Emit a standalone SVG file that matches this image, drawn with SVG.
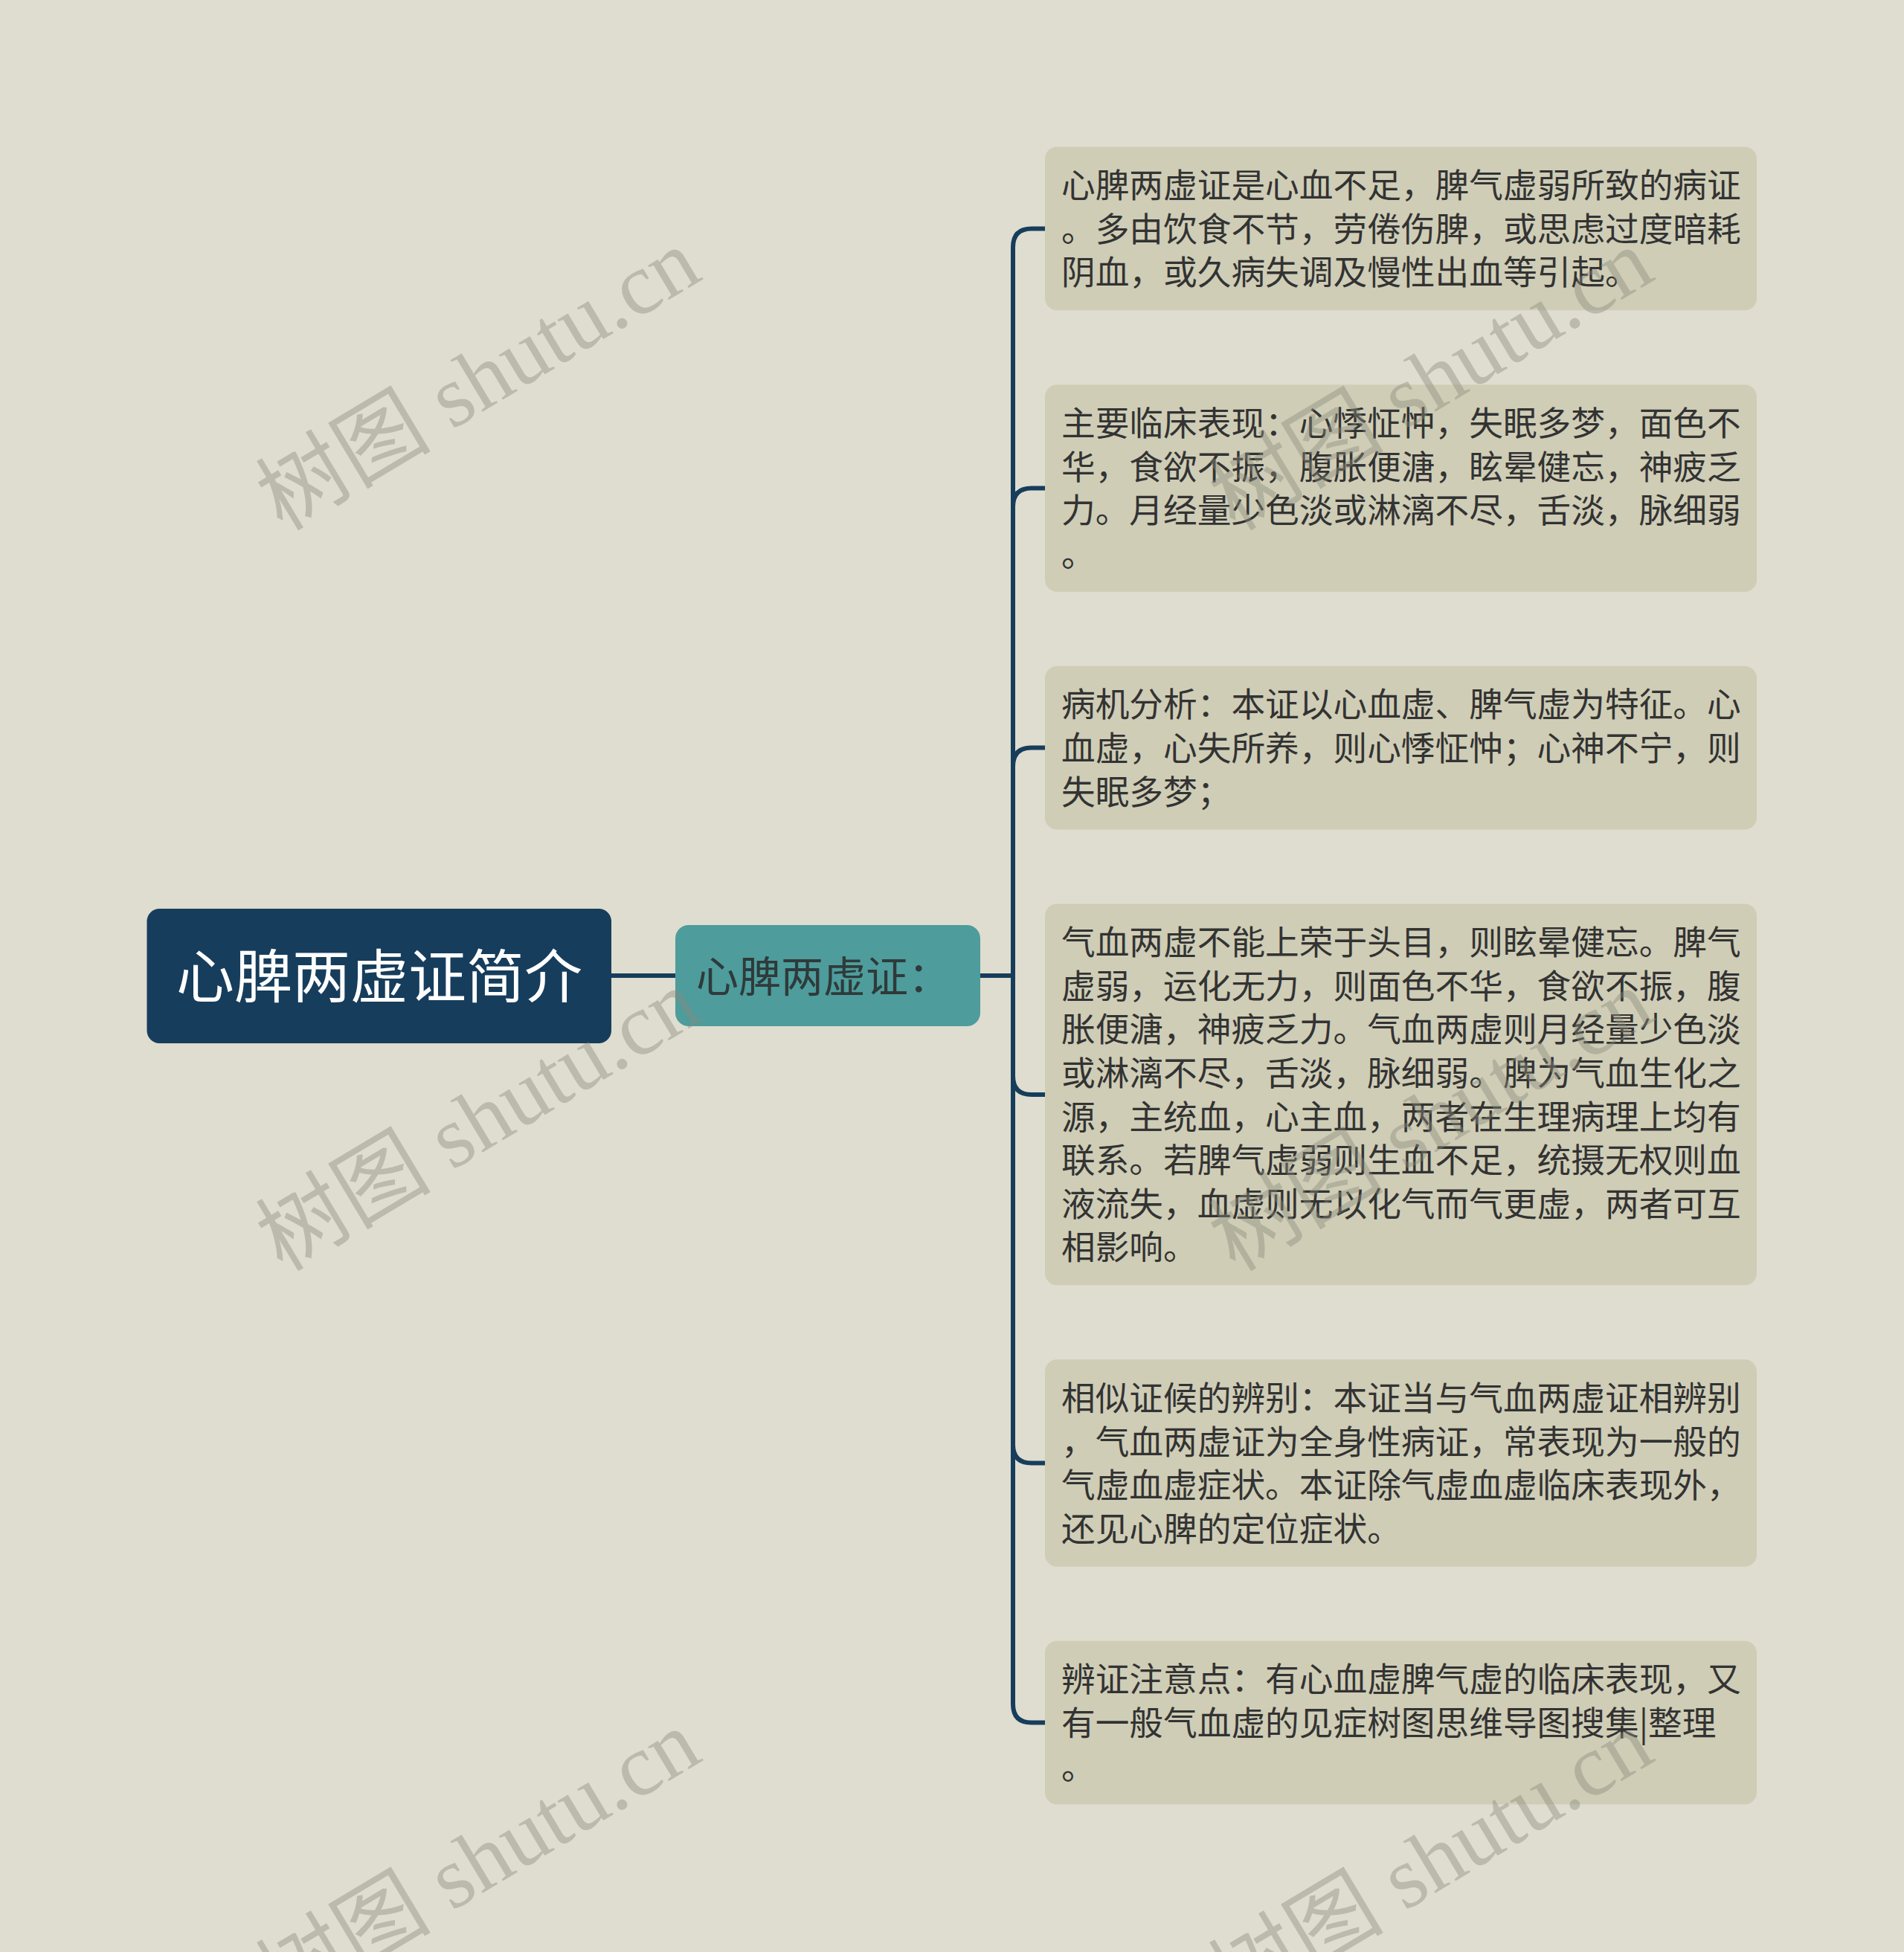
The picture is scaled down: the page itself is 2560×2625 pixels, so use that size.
<svg xmlns="http://www.w3.org/2000/svg" width="2560" height="2625" viewBox="0 0 2560 2625">
<style>
.leaf rect{fill:#CFCDB6;}
.leaf text{font-family:"Noto Sans CJK SC","Noto Sans",sans-serif;font-size:45.7px;fill:#333333;}
.conn{fill:none;stroke:#173D5C;stroke-width:6;}
.wm{font-family:"Liberation Serif","Noto Sans CJK SC",serif;font-size:118px;fill:#8a8a7c;fill-opacity:0.42;}
</style>
<rect x="0" y="0" width="2560" height="2625" fill="#DFDDCF"/>
<g id="connectors">
<path class="conn" d="M822 1312 H908"/>
<path class="conn" d="M1318 1312 H1362"/>
<path class="conn" d="M1362 1312 V332.4 Q1362 307.4 1387 307.4 H1405"/>
<path class="conn" d="M1362 1312 V681.5 Q1362 656.5 1387 656.5 H1405"/>
<path class="conn" d="M1362 1312 V1030.6 Q1362 1005.6 1387 1005.6 H1405"/>
<path class="conn" d="M1362 1312 V1446.9 Q1362 1471.9 1387 1471.9 H1405"/>
<path class="conn" d="M1362 1312 V1942.5 Q1362 1967.5 1387 1967.5 H1405"/>
<path class="conn" d="M1362 1312 V2291.6 Q1362 2316.6 1387 2316.6 H1405"/>
</g>
<g id="root">
<rect x="197.5" y="1222" width="624.5" height="181" rx="17" fill="#173D5C"/>
<text x="510" y="1342" text-anchor="middle" font-family="Noto Sans CJK SC, Noto Sans, sans-serif" font-size="78" fill="#FFFFFF">心脾两虚证简介</text>
</g>
<g id="middle">
<rect x="908" y="1244" width="410" height="136" rx="18" fill="#4E9C9C"/>
<text x="936" y="1334" font-family="Noto Sans CJK SC, Noto Sans, sans-serif" font-size="57" fill="#2F3A3A">心脾两虚证：</text>
</g>
<g id="leaf1" class="leaf">
<rect x="1405" y="197.5" width="957" height="219.8" rx="16"/>
<text x="1427" y="266.2"><tspan x="1427">心脾两虚证是心血不足，脾气虚弱所致的病证</tspan><tspan x="1427" dy="58.6">。多由饮食不节，劳倦伤脾，或思虑过度暗耗</tspan><tspan x="1427" dy="58.6">阴血，或久病失调及慢性出血等引起。</tspan></text>
</g>
<g id="leaf2" class="leaf">
<rect x="1405" y="517.3" width="957" height="278.4" rx="16"/>
<text x="1427" y="586"><tspan x="1427">主要临床表现：心悸怔忡，失眠多梦，面色不</tspan><tspan x="1427" dy="58.6">华，食欲不振，腹胀便溏，眩晕健忘，神疲乏</tspan><tspan x="1427" dy="58.6">力。月经量少色淡或淋漓不尽，舌淡，脉细弱</tspan><tspan x="1427" dy="58.6">。</tspan></text>
</g>
<g id="leaf3" class="leaf">
<rect x="1405" y="895.7" width="957" height="219.8" rx="16"/>
<text x="1427" y="964.4"><tspan x="1427">病机分析：本证以心血虚、脾气虚为特征。心</tspan><tspan x="1427" dy="58.6">血虚，心失所养，则心悸怔忡；心神不宁，则</tspan><tspan x="1427" dy="58.6">失眠多梦；</tspan></text>
</g>
<g id="leaf4" class="leaf">
<rect x="1405" y="1215.5" width="957" height="512.8" rx="16"/>
<text x="1427" y="1284.2"><tspan x="1427">气血两虚不能上荣于头目，则眩晕健忘。脾气</tspan><tspan x="1427" dy="58.6">虚弱，运化无力，则面色不华，食欲不振，腹</tspan><tspan x="1427" dy="58.6">胀便溏，神疲乏力。气血两虚则月经量少色淡</tspan><tspan x="1427" dy="58.6">或淋漓不尽，舌淡，脉细弱。脾为气血生化之</tspan><tspan x="1427" dy="58.6">源，主统血，心主血，两者在生理病理上均有</tspan><tspan x="1427" dy="58.6">联系。若脾气虚弱则生血不足，统摄无权则血</tspan><tspan x="1427" dy="58.6">液流失，血虚则无以化气而气更虚，两者可互</tspan><tspan x="1427" dy="58.6">相影响。</tspan></text>
</g>
<g id="leaf5" class="leaf">
<rect x="1405" y="1828.3" width="957" height="278.4" rx="16"/>
<text x="1427" y="1897"><tspan x="1427">相似证候的辨别：本证当与气血两虚证相辨别</tspan><tspan x="1427" dy="58.6">，气血两虚证为全身性病证，常表现为一般的</tspan><tspan x="1427" dy="58.6">气虚血虚症状。本证除气虚血虚临床表现外，</tspan><tspan x="1427" dy="58.6">还见心脾的定位症状。</tspan></text>
</g>
<g id="leaf6" class="leaf">
<rect x="1405" y="2206.7" width="957" height="219.8" rx="16"/>
<text x="1427" y="2275.4"><tspan x="1427">辨证注意点：有心血虚脾气虚的临床表现，又</tspan><tspan x="1427" dy="58.6">有一般气血虚的见症树图思维导图搜集|整理</tspan><tspan x="1427" dy="58.6">。</tspan></text>
</g>
<g id="watermarks">
<text class="wm" x="645" y="550" text-anchor="middle" transform="rotate(-31 645 514)">树图 shutu.cn</text>
<text class="wm" x="1926" y="550" text-anchor="middle" transform="rotate(-31 1926 514)">树图 shutu.cn</text>
<text class="wm" x="645" y="1546" text-anchor="middle" transform="rotate(-31 645 1510)">树图 shutu.cn</text>
<text class="wm" x="1926" y="1546" text-anchor="middle" transform="rotate(-31 1926 1510)">树图 shutu.cn</text>
<text class="wm" x="645" y="2542" text-anchor="middle" transform="rotate(-31 645 2506)">树图 shutu.cn</text>
<text class="wm" x="1926" y="2542" text-anchor="middle" transform="rotate(-31 1926 2506)">树图 shutu.cn</text>
</g>
</svg>
